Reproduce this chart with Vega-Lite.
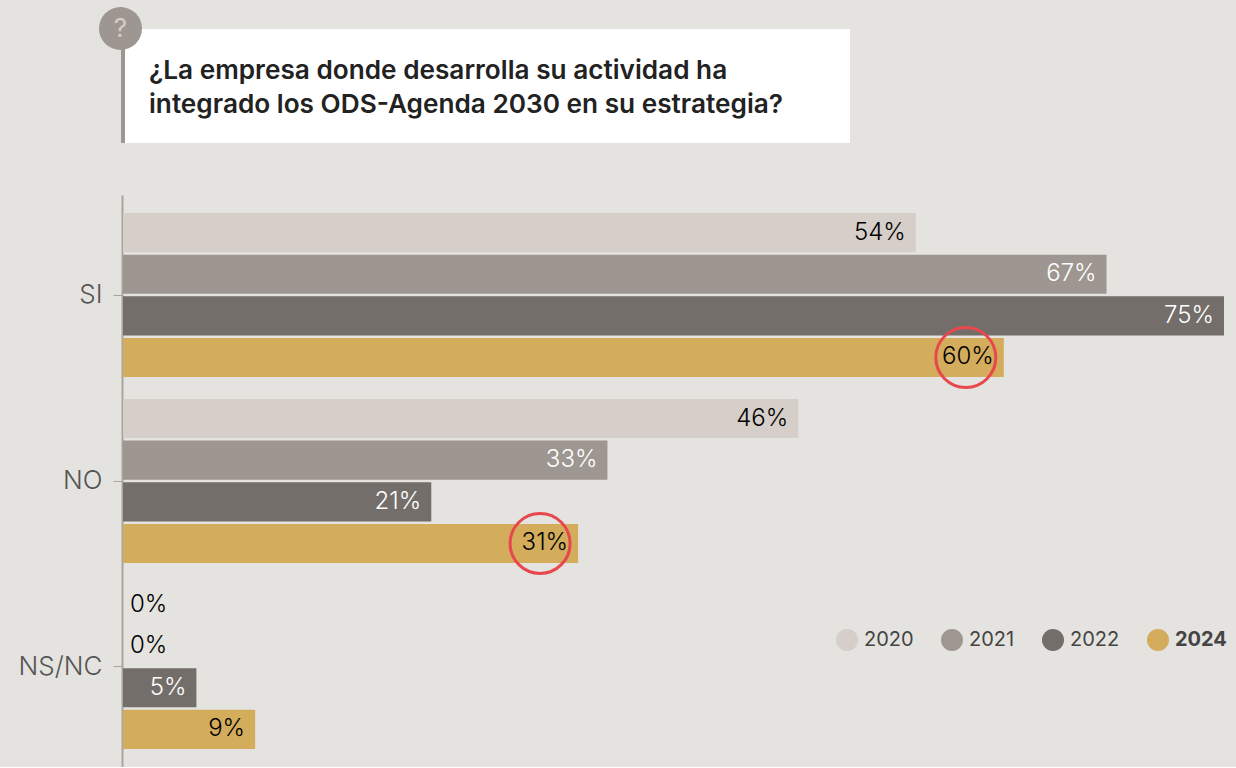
{
"$schema":"https://vega.github.io/schema/vega-lite/v6.json",
"background":"#E4E3DF",
"padding":{"left":18,"top":7,"right":11,"bottom":0},
"spacing":50,
"config":{"font":"Inter","view":{"stroke":null}},
"vconcat":[
{"width":727,"height":114,"view":{"fill":"#ffffff","stroke":null},
 "data":{"values":[{"q":"¿La empresa donde desarrolla su actividad ha\nintegrado los ODS-Agenda 2030 en su estrategia?","icon":"?"}]},
 "layer":[
 {"mark":{"type":"rule","color":"#9E9690","strokeWidth":4},
  "encoding":{"x":{"datum":0,"type":"quantitative","scale":{"domain":[0,727]},"axis":null},"y":{"datum":0,"type":"quantitative","scale":{"domain":[114,0]},"axis":null},"y2":{"datum":114}}},
 {"mark":{"type":"point","shape":"circle","filled":true,"color":"#9E9690","opacity":1,"size":1849},
  "encoding":{"x":{"datum":-2.5,"type":"quantitative","scale":{"domain":[0,727]},"axis":null},"y":{"datum":-0.5,"type":"quantitative","scale":{"domain":[114,0]},"axis":null}}},
 {"mark":{"type":"text","fontSize":26,"color":"#D5CEC9"},
  "encoding":{"text":{"field":"icon"},"x":{"datum":-2.5,"type":"quantitative","scale":{"domain":[0,727]},"axis":null},"y":{"datum":-0.5,"type":"quantitative","scale":{"domain":[114,0]},"axis":null}}},
 {"mark":{"type":"text","align":"left","dx":-337.5,"dy":-15,"fontSize":26.2,"fontWeight":600,"lineHeight":33.5,"lineBreak":"\n","color":"#222222"},
  "encoding":{"text":{"field":"q"}}}
 ]},
{"width":1101,"height":572,
 "data":{"values":[
 {"answer":"SI","year":"2020","share":0.54},
 {"answer":"SI","year":"2021","share":0.67},
 {"answer":"SI","year":"2022","share":0.75},
 {"answer":"SI","year":"2024","share":0.60,"highlight":true},
 {"answer":"NO","year":"2020","share":0.46},
 {"answer":"NO","year":"2021","share":0.33},
 {"answer":"NO","year":"2022","share":0.21},
 {"answer":"NO","year":"2024","share":0.31,"highlight":true},
 {"answer":"NS/NC","year":"2020","share":0},
 {"answer":"NS/NC","year":"2021","share":0},
 {"answer":"NS/NC","year":"2022","share":0.05},
 {"answer":"NS/NC","year":"2024","share":0.09}
 ]},
 "encoding":{
  "y":{"field":"answer","type":"nominal","sort":["SI","NO","NS/NC"],"title":null,
   "scale":{"paddingInner":0.118,"paddingOuter":0.097},
   "axis":{"domainColor":"#A9A49F","domainWidth":2,"tickColor":"#A9A49F","tickSize":9,"tickWidth":1,"offset":1,"labelFontSize":26,"labelColor":"#555555","labelPadding":11,"labelFont":"Inter","labelFontWeight":300}},
  "yOffset":{"field":"year","type":"nominal","sort":["2020","2021","2022","2024"],"scale":{"paddingInner":0.06}},
  "x":{"field":"share","type":"quantitative","scale":{"domain":[0,0.75],"nice":false},"axis":null}
 },
 "layer":[
 {"mark":{"type":"bar"},
  "encoding":{"color":{"field":"year","type":"nominal","title":null,
   "scale":{"domain":["2020","2021","2022","2024"],"range":["#D5CEC9","#9E9690","#736E69","#D3AC5C"]},
   "legend":{"orient":"none","legendX":713,"legendY":600,"direction":"horizontal","columns":4,"gridAlign":"none","columnPadding":27,"symbolType":"circle","symbolSize":484,"symbolStrokeWidth":0,"symbolOpacity":1,"labelFontSize":20,"labelColor":"#444444","labelOffset":6,
    "encode":{"labels":{"update":{"fontWeight":{"signal":"datum.value=='2024'?'bold':'normal'"}}}}}}}},
 {"transform":[{"filter":"datum.share>0"}],
  "mark":{"type":"text","align":"right","dx":-10,"fontSize":24,"fontWeight":300},
  "encoding":{"text":{"field":"share","format":".0%"},
   "color":{"condition":{"test":"datum.year=='2021'||datum.year=='2022'","value":"#ffffff"},"value":"#000000"}}},
 {"transform":[{"filter":"datum.share==0"}],
  "mark":{"type":"text","align":"left","dx":7,"fontSize":24,"fontWeight":300,"color":"#000000"},
  "encoding":{"text":{"field":"share","format":".0%"}}},
 {"transform":[{"filter":"datum.highlight"}],
  "mark":{"type":"point","shape":"circle","filled":false,"stroke":"#E8474E","strokeWidth":3,"opacity":1,"size":3600,"xOffset":-38},
  "encoding":{}}
 ]}
]}
